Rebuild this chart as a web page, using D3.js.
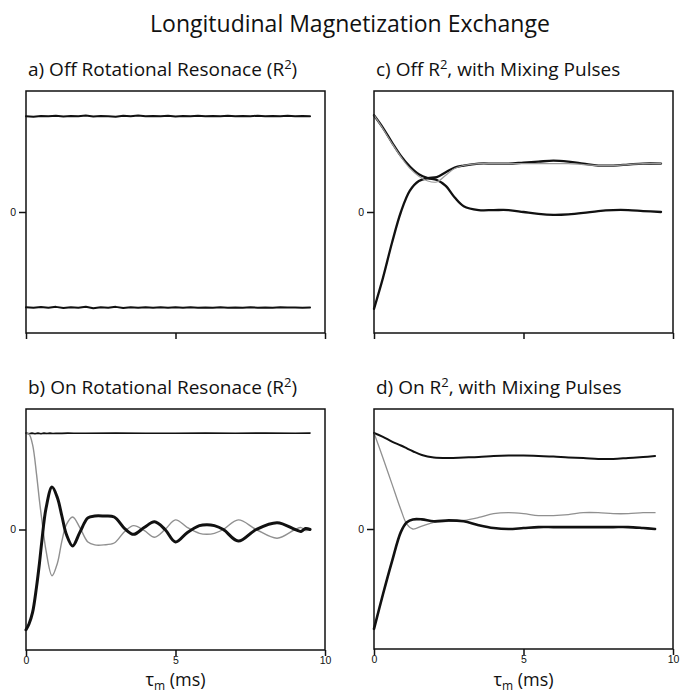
<!DOCTYPE html>
<html>
<head>
<meta charset="utf-8">
<script src="https://cdn.jsdelivr.net/npm/d3@7"></script>
<style>
  html, body { margin: 0; padding: 0; background: #fff; }
  svg { display: block; font-family: "Open Sans", "Noto Sans", sans-serif; }
</style>
</head>
<body>
<svg id="chart" width="680" height="698"></svg>
<script>
// ---- data ----------------------------------------------------------------
const chartTitle = "Longitudinal Magnetization Exchange";
const xTicks = [0, 5, 10];
const yTicks = [0];

// a) off rotational resonance: two flat traces with slight noise
const aTime = [0,0.25,0.5,0.75,1,1.25,1.5,1.75,2,2.25,2.5,2.75,3,3.25,3.5,3.75,4,4.25,4.5,4.75,
               5,5.25,5.5,5.75,6,6.25,6.5,6.75,7,7.25,7.5,7.75,8,8.25,8.5,8.75,9,9.25,9.5];
const aUpper = [0.99,0.985,0.992,0.988,0.995,0.986,0.992,0.99,0.996,0.987,
                0.993,0.99,0.985,0.994,0.99,0.996,0.988,0.993,0.99,0.995,
                0.987,0.992,0.99,0.995,0.988,0.993,0.99,0.994,0.988,0.992,
                0.99,0.995,0.988,0.992,0.99,0.994,0.989,0.992,0.99];
const aLower = [-0.985,-0.99,-0.982,-0.99,-0.98,-0.992,-0.984,-0.99,-0.978,-0.995,
                -0.983,-0.99,-0.98,-0.992,-0.985,-0.99,-0.983,-0.988,-0.985,-0.99,
                -0.984,-0.988,-0.985,-0.99,-0.986,-0.988,-0.985,-0.989,-0.986,-0.988,
                -0.985,-0.988,-0.986,-0.988,-0.985,-0.987,-0.986,-0.988,-0.986];

// b) on rotational resonance
const bTopTime = [0,0.1,0.2,0.3,0.4,0.5,0.6,0.7,0.8,0.9,1.0,1.2,1.4,1.6,2,3,4,5,6,7,8,9,9.5];
const bTop     = [1.0,0.993,1.0,0.993,1.0,0.994,1.0,0.995,1.0,0.996,0.999,0.997,1.0,0.998,
                  0.999,1.0,0.999,0.999,1.0,0.999,1.0,0.999,1.0];
const bTime  = [0,0.1,0.22,0.35,0.45,0.53,0.67,0.87,1.05,1.2,1.35,1.56,1.8,2.07,2.3,2.6,2.95,
                3.3,3.6,3.95,4.3,4.65,5.0,5.4,5.8,6.05,6.3,6.6,7.1,7.7,8.4,9.0,9.2,9.35,9.5];
const bGray  = [1.0,0.99,0.88,0.58,0.3,0.1,-0.22,-0.48,-0.35,-0.12,0.05,0.13,0.02,-0.13,-0.16,
                -0.16,-0.14,-0.02,0.04,-0.01,-0.08,0.0,0.1,0.02,-0.04,-0.05,-0.04,0.0,0.1,0.0,
                -0.09,0.0,0.02,-0.01,0.0];
const bThick = [-1.04,-0.98,-0.86,-0.6,-0.35,-0.12,0.22,0.44,0.33,0.14,-0.05,-0.17,-0.03,0.12,0.14,
                0.14,0.13,0.01,-0.05,0.02,0.08,0.0,-0.13,-0.03,0.04,0.05,0.04,0.0,-0.12,0.0,
                0.07,0.0,-0.02,0.01,0.0];

// c) off R2, with mixing pulses
const cTime  = [0,0.3,0.6,0.9,1.2,1.5,1.8,2.1,2.4,2.7,3.0,3.5,4,4.5,5,5.5,6,6.5,7,7.5,8,8.5,9,9.6];
const cDown  = [1.0,0.87,0.72,0.58,0.47,0.39,0.35,0.33,0.27,0.15,0.06,0.02,0.02,0.02,0.0,-0.02,
                -0.03,-0.025,-0.01,0.01,0.02,0.02,0.01,0.0];
const cUp    = [-1.0,-0.68,-0.32,0.0,0.22,0.32,0.35,0.36,0.41,0.46,0.48,0.5,0.5,0.5,0.51,0.52,
                0.53,0.52,0.5,0.48,0.48,0.49,0.5,0.5];
const cGray  = [1.0,0.86,0.71,0.57,0.45,0.37,0.32,0.31,0.38,0.45,0.48,0.5,0.5,0.5,0.5,0.5,
                0.5,0.5,0.49,0.48,0.48,0.49,0.5,0.5];

// d) on R2, with mixing pulses
const dTime  = [0,0.3,0.6,0.9,1.1,1.3,1.6,2.0,2.5,3.0,3.5,4.0,4.5,5.0,5.5,6.0,6.5,7.0,7.5,8.0,8.5,9.0,9.4];
const dTop   = [1.0,0.96,0.91,0.87,0.84,0.81,0.77,0.745,0.74,0.745,0.75,0.76,0.765,0.765,0.76,
                0.755,0.745,0.74,0.73,0.73,0.74,0.75,0.76];
const dGray  = [1.0,0.74,0.47,0.2,0.05,0.0,0.03,0.07,0.08,0.09,0.12,0.16,0.17,0.16,0.14,0.14,
                0.15,0.17,0.17,0.16,0.16,0.17,0.17];
const dThick = [-1.04,-0.68,-0.34,-0.03,0.07,0.1,0.1,0.08,0.09,0.08,0.04,0.01,0.0,0.01,0.02,
                0.02,0.02,0.02,0.02,0.02,0.02,0.01,0.0];

// ---- panels --------------------------------------------------------------
const panels = [
  { label: "a) Off Rotational Resonace (R", tail: ")", box: [26, 91, 325, 333], xLabels: false,
    traces: [
      { t: aTime, v: aUpper, color: "#111", width: 2, smooth: false },
      { t: aTime, v: aLower, color: "#111", width: 2, smooth: false }
    ] },
  { label: "b) On Rotational Resonace (R", tail: ")", box: [26, 409, 325, 650], xLabels: true,
    traces: [
      { t: bTopTime, v: bTop, color: "#111", width: 1.6, smooth: false },
      { t: bTime, v: bGray, color: "#909090", width: 1.4, smooth: true },
      { t: bTime, v: bThick, color: "#111", width: 3, smooth: true }
    ] },
  { label: "c) Off R", tail: ", with Mixing Pulses", box: [374, 91, 673, 333], xLabels: false,
    traces: [
      { t: cTime, v: cDown, color: "#111", width: 2.3, smooth: true },
      { t: cTime, v: cUp, color: "#111", width: 2.3, smooth: true },
      { t: cTime, v: cGray, color: "#9a9a9a", width: 1.2, smooth: true }
    ] },
  { label: "d) On R", tail: ", with Mixing Pulses", box: [374, 409, 673, 649], xLabels: true,
    traces: [
      { t: dTime, v: dTop, color: "#111", width: 2, smooth: true },
      { t: dTime, v: dGray, color: "#909090", width: 1.3, smooth: true },
      { t: dTime, v: dThick, color: "#111", width: 2.6, smooth: true }
    ] }
];

const svg = d3.select("#chart");

svg.append("text")
  .attr("x", 350).attr("y", 32)
  .attr("text-anchor", "middle")
  .attr("font-size", 23)
  .attr("fill", "#111")
  .text(chartTitle);

panels.forEach(p => {
  const [x0, y0, x1, y1] = p.box;
  const x = d3.scaleLinear().domain([0, 10]).range([x0, x1]);
  const y = d3.scaleLinear().domain([-1.25, 1.25]).range([y1, y0]);
  const g = svg.append("g");

  // panel heading with superscript 2
  const head = g.append("text")
    .attr("x", x0 + 2).attr("y", y0 - 15)
    .attr("font-size", 19)
    .attr("fill", "#111");
  head.append("tspan").text(p.label);
  head.append("tspan").attr("font-size", 13).attr("dy", -7).text("2");
  head.append("tspan").attr("dy", 7).text(p.tail);

  // axes
  const xAxis = d3.axisBottom(x).tickValues(xTicks).tickSize(6).tickSizeOuter(0).tickPadding(1)
    .tickFormat(p.xLabels ? d3.format("d") : () => "");
  const gx = g.append("g").attr("transform", `translate(0,${y1})`).call(xAxis);
  const yAxis = d3.axisLeft(y).tickValues(yTicks).tickSize(7).tickSizeOuter(0).tickPadding(3)
    .tickFormat(d3.format("d"));
  const gy = g.append("g").attr("transform", `translate(${x0},0)`).call(yAxis);
  [gx, gy].forEach(a => {
    a.select(".domain").remove();
    a.selectAll(".tick line").attr("stroke", "#111").attr("stroke-width", 1.5);
    a.selectAll(".tick text").attr("font-size", 10.5).attr("fill", "#111")
      .attr("font-family", "\"Liberation Sans\", sans-serif");
  });

  // traces
  p.traces.forEach(tr => {
    const pts = tr.t.map((t, i) => [t, tr.v[i]]);
    const line = d3.line()
      .x(d => x(d[0])).y(d => y(d[1]))
      .curve(tr.smooth ? d3.curveCatmullRom.alpha(0.5) : d3.curveLinear);
    g.append("path")
      .attr("d", line(pts))
      .attr("fill", "none")
      .attr("stroke", tr.color)
      .attr("stroke-width", tr.width)
      .attr("stroke-linejoin", "round")
      .attr("stroke-linecap", "round");
  });

  // frame
  g.append("rect")
    .attr("x", x0).attr("y", y0)
    .attr("width", x1 - x0).attr("height", y1 - y0)
    .attr("fill", "none").attr("stroke", "#111").attr("stroke-width", 1.5);

  // x-axis title for bottom panels
  if (p.xLabels) {
    const lab = g.append("text")
      .attr("x", (x0 + x1) / 2).attr("y", 686)
      .attr("text-anchor", "middle")
      .attr("font-size", 18)
      .attr("fill", "#111");
    lab.append("tspan").text("τ");
    lab.append("tspan").attr("font-size", 12).attr("dy", 4).text("m");
    lab.append("tspan").attr("dy", -4).text(" (ms)");
  }
});
</script>
</body>
</html>
